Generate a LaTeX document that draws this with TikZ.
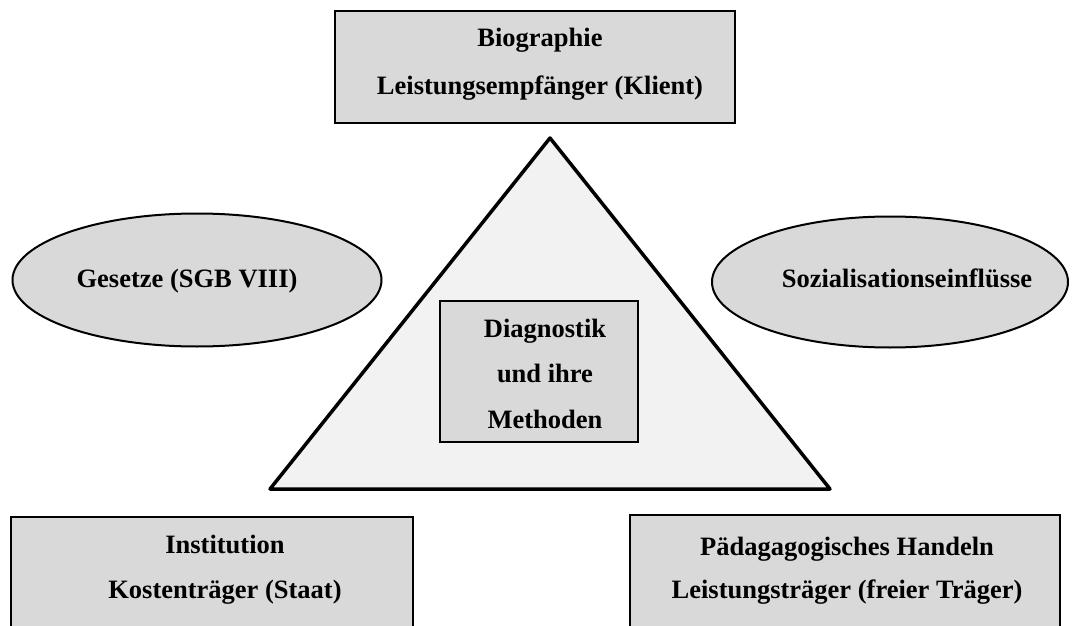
\documentclass[tikz,border=0pt]{standalone}
\usepackage{fontspec}
\setmainfont{Liberation Serif}
\usetikzlibrary{shapes.geometric}
\definecolor{boxgray}{HTML}{D9D9D9}
\definecolor{trigray}{HTML}{F2F2F2}
\tikzset{
  greybox/.style={draw=black, line width=1.2pt, fill=boxgray, rectangle, inner sep=0pt},
  greyoval/.style={draw=black, line width=2pt, fill=boxgray, ellipse, inner sep=0pt},
  lbl/.style={anchor=base, inner sep=0pt, font=\fontsize{26.5}{30}\selectfont\bfseries}
}
\begin{document}
\begin{tikzpicture}[x=1pt,y=-1pt]
\useasboundingbox (0,0) rectangle (1072,626);
\clip (0,0) rectangle (1072,626);
% triangle
\coordinate (apex) at (550,138);
\coordinate (bl) at (270,489);
\coordinate (br) at (830,489);
\draw[line width=3.5pt, line join=round, fill=trigray] (apex) -- (bl) -- (br) -- cycle;
% boxes
\node[greybox, minimum width=400pt, minimum height=112pt] (top) at (535,67) {};
\node[greybox, minimum width=402pt, minimum height=123pt] (botl) at (212,578.5) {};
\node[greybox, minimum width=430pt, minimum height=125pt] (botr) at (845,577.5) {};
\node[greybox, minimum width=198pt, minimum height=141pt] (mid) at (539,371.5) {};
% ellipses
\node[greyoval, minimum width=369pt, minimum height=133pt] (ell) at (197,280) {};
\node[greyoval, minimum width=356pt, minimum height=131pt] (elr) at (890,282) {};
% texts
\node[lbl] (t1) at (540,47) {Biographie};
\node[lbl] (t2) at (540,95) {Leistungsempfänger (Klient)};
\node[lbl] (t3) at (225,553) {Institution};
\node[lbl] (t4) at (225,598) {Kostenträger (Staat)};
\node[lbl] (t5) at (847,555) {Pädagagogisches Handeln};
\node[lbl] (t6) at (847,598) {Leistungsträger (freier Träger)};
\node[lbl] (t7) at (187,287) {Gesetze (SGB VIII)};
\node[lbl] (t8) at (907,287) {Sozialisationseinflüsse};
\node[lbl] (t9) at (545,337) {Diagnostik};
\node[lbl] (t10) at (545,382) {und ihre};
\node[lbl] (t11) at (545,428) {Methoden};
\end{tikzpicture}
\end{document}
